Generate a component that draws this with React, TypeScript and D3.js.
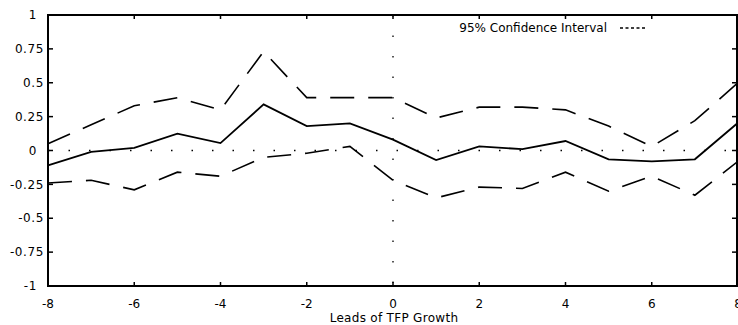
import * as d3 from "d3";

// leads of TFP growth
const leads = [-8, -7, -6, -5, -4, -3, -2, -1, 0, 1, 2, 3, 4, 5, 6, 7, 8];
// point estimate
const estimate = [-0.11, -0.01, 0.02, 0.125, 0.055, 0.34, 0.18, 0.2, 0.08, -0.07, 0.03, 0.01, 0.07, -0.065, -0.08, -0.065, 0.205];
// 95% confidence bands
const upper = [0.05, 0.19, 0.33, 0.39, 0.3, 0.73, 0.39, 0.39, 0.39, 0.24, 0.32, 0.32, 0.3, 0.18, 0.03, 0.22, 0.5];
const lower = [-0.24, -0.22, -0.29, -0.16, -0.19, -0.05, -0.02, 0.03, -0.22, -0.35, -0.27, -0.28, -0.16, -0.3, -0.19, -0.33, -0.08];

const xTicks = [-8, -6, -4, -2, 0, 2, 4, 6, 8];
const yTicks = [-1, -0.75, -0.5, -0.25, 0, 0.25, 0.5, 0.75, 1];

const W = 738;
const H = 325;
const left = 48;
const right = 738;
const top = 15;
const bottom = 286;
const font = "'DejaVu Sans', sans-serif";

export default function App() {
  const x = d3.scaleLinear().domain([-8, 8]).range([left, right]);
  const y = d3.scaleLinear().domain([-1, 1]).range([bottom, top]);

  const line = d3
    .line<number>()
    .x((_, i) => x(leads[i]))
    .y((d) => y(d));

  return (
    <svg
      width={W}
      height={H}
      style={{ position: "absolute", left: 0, top: 0, background: "#fff" }}
    >
      {/* zero lines */}
      <line x1={left} x2={right} y1={y(0)} y2={y(0)} stroke="#000" strokeWidth={1.3} strokeDasharray="1.5,19" />
      <line x1={x(0)} x2={x(0)} y1={top} y2={bottom} stroke="#000" strokeWidth={1.3} strokeDasharray="1.5,19" />

      {/* confidence bands */}
      <path d={line(upper) || ""} fill="none" stroke="#000" strokeWidth={1.6} strokeDasharray="24,14" />
      <path d={line(lower) || ""} fill="none" stroke="#000" strokeWidth={1.6} strokeDasharray="24,14" />
      {/* estimate */}
      <path d={line(estimate) || ""} fill="none" stroke="#000" strokeWidth={1.8} />

      {/* frame */}
      <rect x={left} y={top} width={right - 1 - left} height={bottom - top} fill="none" stroke="#000" strokeWidth={2} />

      {/* y ticks */}
      {yTicks.map((t) => (
        <g key={"y" + t}>
          <line x1={left} x2={left + 5} y1={y(t)} y2={y(t)} stroke="#000" strokeWidth={1.5} />
          <line x1={right - 6} x2={right - 1} y1={y(t)} y2={y(t)} stroke="#000" strokeWidth={1.5} />
          <text
            x={Number.isInteger(t) ? 37 : 44}
            y={y(t)}
            dy="0.35em"
            textAnchor="end"
            fontFamily={font}
            fontSize={12}
            letterSpacing={0.6}
          >
            {String(t)}
          </text>
        </g>
      ))}

      {/* x ticks */}
      {xTicks.map((t) => (
        <g key={"x" + t}>
          <line x1={x(t)} x2={x(t)} y1={bottom} y2={bottom - 4} stroke="#000" strokeWidth={1.5} />
          <line x1={x(t)} x2={x(t)} y1={top} y2={top + 4} stroke="#000" strokeWidth={1.5} />
          <text x={x(t)} y={308} textAnchor="middle" fontFamily={font} fontSize={12}>
            {String(t)}
          </text>
        </g>
      ))}

      <text x={394} y={322} textAnchor="middle" fontFamily={font} fontSize={12} letterSpacing={0.3}>
        Leads of TFP Growth
      </text>

      {/* legend */}
      <text x={607} y={32} textAnchor="end" fontFamily={font} fontSize={12}>
        95% Confidence Interval
      </text>
      <line x1={620} x2={646} y1={28} y2={28} stroke="#000" strokeWidth={1.3} strokeDasharray="3,2.5" />
    </svg>
  );
}
